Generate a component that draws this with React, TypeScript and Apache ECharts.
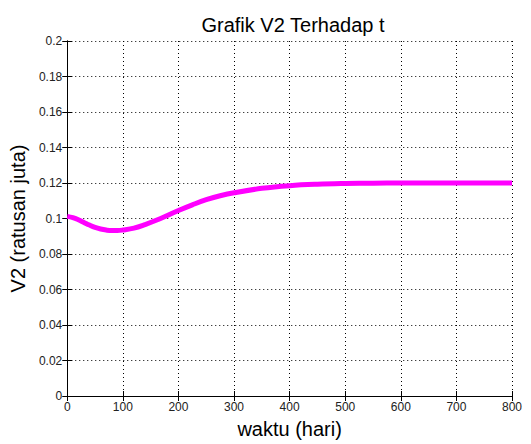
import React, { useEffect, useRef } from "react";
import * as echarts from "echarts";

const titleText = "Grafik V2 Terhadap t";
const xName = "waktu (hari)";
const yName = "V2 (ratusan juta)";

const tValues = [0, 10, 20, 30, 40, 50, 60, 70, 80, 90, 100, 120, 140, 160, 180, 200, 225, 250, 275, 300, 350, 400, 450, 500, 550, 600, 650, 700, 750, 800];
const v2Values = [0.1012, 0.1005, 0.0993, 0.0978, 0.0963, 0.0950, 0.0941, 0.0935, 0.0932, 0.0932, 0.0935, 0.0946, 0.0966, 0.0990, 0.1017, 0.1045, 0.1077, 0.1106, 0.1128, 0.1145, 0.1170, 0.1185, 0.1193, 0.1197, 0.1199, 0.1200, 0.1200, 0.1200, 0.1200, 0.1200];

const font = "'Liberation Sans', Arial, sans-serif";

export default function App() {
  const ref = useRef<HTMLDivElement>(null);
  useEffect(() => {
    if (!ref.current) return;
    const chart = echarts.init(ref.current, null, { renderer: "svg" });
    const data = tValues.map((t, i) => [t, v2Values[i]]);
    const tick = { show: true, inside: true, length: 5, lineStyle: { color: "#000", width: 1 } };
    const line = { show: true, lineStyle: { color: "#000", width: 1 } };
    const grid = { show: true, lineStyle: { color: "#000", width: 1, type: [1, 3] as any } };
    chart.setOption({
      animation: false,
      backgroundColor: "#fff",
      title: {
        text: titleText,
        left: 288,
        textAlign: "center",
        top: 10,
        textStyle: { fontFamily: font, fontSize: 20, fontWeight: "normal", color: "#000" },
      },
      grid: { left: 65, right: 19, top: 41, bottom: 46, containLabel: false },
      xAxis: [
        {
          type: "value",
          min: 0,
          max: 800,
          interval: 100,
          name: xName,
          nameLocation: "middle",
          nameGap: 23,
          nameTextStyle: { fontFamily: font, fontSize: 20, color: "#000" },
          axisLine: line,
          axisTick: tick,
          axisLabel: { fontFamily: font, fontSize: 12, color: "#222", margin: 5 },
          splitLine: grid,
        },
        {
          type: "value",
          position: "top",
          min: 0,
          max: 800,
          interval: 100,
          axisLine: line,
          axisTick: tick,
          axisLabel: { show: false },
          splitLine: { show: false },
        },
      ],
      yAxis: [
        {
          type: "value",
          min: 0,
          max: 0.2,
          interval: 0.02,
          name: yName,
          nameLocation: "middle",
          nameGap: 38,
          nameRotate: 90,
          nameTextStyle: { fontFamily: font, fontSize: 20, color: "#000" },
          axisLine: line,
          axisTick: tick,
          axisLabel: {
            fontFamily: font,
            fontSize: 12,
            color: "#222",
            margin: 5,
            formatter: (v: number) => String(Math.round(v * 100) / 100),
          },
          splitLine: grid,
        },
        {
          type: "value",
          position: "right",
          min: 0,
          max: 0.2,
          interval: 0.02,
          axisLine: line,
          axisTick: tick,
          axisLabel: { show: false },
          splitLine: { show: false },
        },
      ],
      series: [
        {
          type: "line",
          data,
          smooth: 0.4,
          showSymbol: false,
          lineStyle: { color: "#ff00ff", width: 5 },
          xAxisIndex: 0,
          yAxisIndex: 0,
        },
      ],
    });
    return () => chart.dispose();
  }, []);
  return <div ref={ref} style={{ width: 531, height: 444, position: "absolute", left: 0, top: 0 }} />;
}
